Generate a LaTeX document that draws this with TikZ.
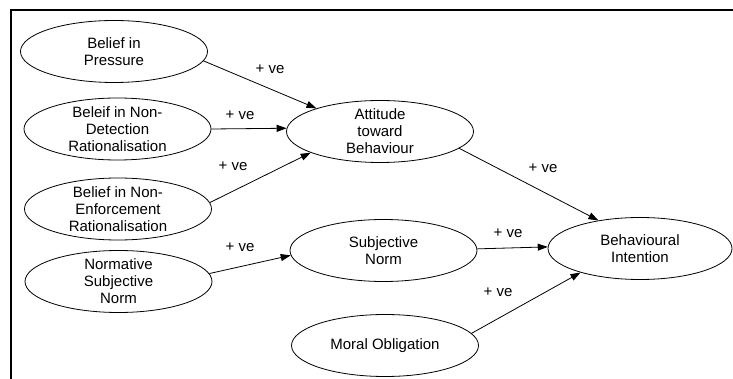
\documentclass[tikz,border=0pt]{standalone}
\usepackage{fontspec}
\setmainfont{Liberation Sans}
\usetikzlibrary{shapes.geometric,arrows.meta}
\begin{document}
\begin{tikzpicture}[x=1pt,y=-1pt,
elip/.style={ellipse,draw,line width=.8pt,minimum width=187pt,minimum height=62pt,
  inner xsep=0pt,inner ysep=-3pt,align=center,font=\fontsize{15}{17}\selectfont},
rel/.style={inner sep=0pt,font=\fontsize{15}{17}\selectfont},
flecha/.style={line width=.8pt,-{Triangle[length=10pt,width=7pt]}}]
\useasboundingbox (0,0) rectangle (733,379);
% Marco
\draw[line width=2pt] (10,10) -- (733,10);
\draw[line width=2pt] (11,9) -- (11,379);
% Nodos
\node[elip] (pres) at (114,51.5) {Belief in\\Pressure};
\node[elip] (det) at (117.5,129) {Beleif in Non-\\Detection\\Rationalisation};
\node[elip] (enf) at (118,209) {Belief in Non-\\Enforcement\\Rationalisation};
\node[elip] (norm) at (118.5,281.5) {Normative\\Subjective\\Norm};
\node[elip] (att) at (380,131.5) {Attitude\\toward\\Behaviour};
\node[elip] (sn) at (383.5,250.5) {Subjective\\Norm};
\node[elip,minimum width=184pt] (bi) at (640,248.5) {Behavioural\\Intention};
\node[elip] (mo) at (385,345.5) {Moral Obligation};
% Flechas
\draw[flecha] (pres.-6) -- (att.160);
\draw[flecha] (det.0) -- (att.178);
\draw[flecha] (enf.4) -- (att.197);
\draw[flecha] (norm.5) -- (sn.183);
\draw[flecha] (att.-12) -- (bi.146);
\draw[flecha] (sn.1) -- (bi.179);
\draw[flecha] (mo.8) -- (bi.202);
\node[rel] (r1) at (270,69) {+ ve};
\node[rel] (r2) at (240,115) {+ ve};
\node[rel] (r3) at (233,166) {+ ve};
\node[rel] (r4) at (240,247) {+ ve};
\node[rel] (r5) at (543,168) {+ ve};
\node[rel] (r6) at (508,233) {+ ve};
\node[rel] (r7) at (498,292) {+ ve};
\end{tikzpicture}
\end{document}
